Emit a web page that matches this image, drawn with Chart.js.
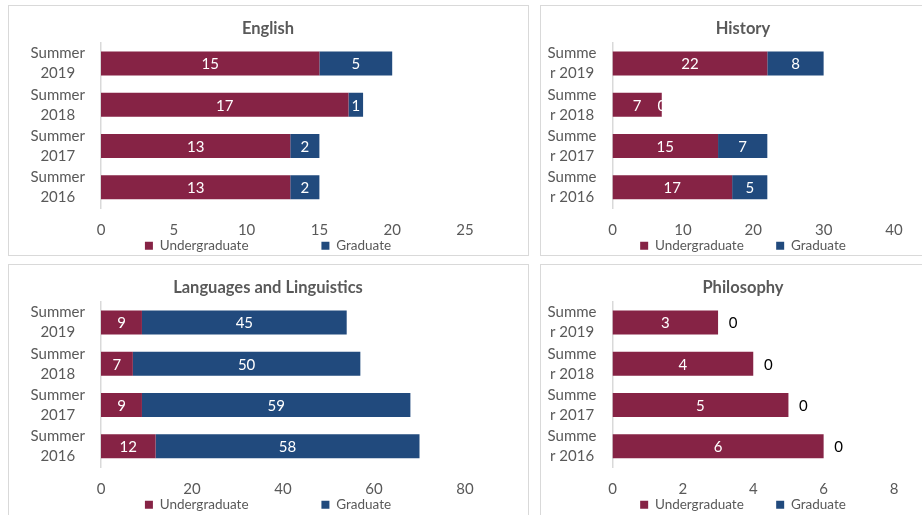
<!DOCTYPE html>
<html><head><meta charset="utf-8">
<script src="https://cdn.jsdelivr.net/npm/chart.js@4.4.1/dist/chart.umd.min.js"></script>
<style>
html,body{margin:0;padding:0;background:#fff;overflow:hidden;width:922px;height:515px;}
.panel{position:absolute;box-sizing:border-box;border:1px solid #d9d9d9;overflow:visible;}
.panel canvas{position:absolute;left:-1px;top:-1px;}
</style></head><body>
<div class="panel" style="left:8px;top:5px;width:521px;height:251px"><canvas id="c1" width="520" height="250"></canvas></div>
<div class="panel" style="left:540px;top:5px;width:408px;height:251px"><canvas id="c2" width="406" height="250"></canvas></div>
<div class="panel" style="left:8px;top:264px;width:521px;height:253px"><canvas id="c3" width="520" height="250"></canvas></div>
<div class="panel" style="left:540px;top:264px;width:408px;height:253px"><canvas id="c4" width="406" height="250"></canvas></div>
<script>
// ---- data ----
const seriesNames = ['Undergraduate', 'Graduate'];
const catsWide = [['Summer', '2019'], ['Summer', '2018'], ['Summer', '2017'], ['Summer', '2016']];
const catsNarrow = [['Summe', 'r 2019'], ['Summe', 'r 2018'], ['Summe', 'r 2017'], ['Summe', 'r 2016']];

const englishUG = [15, 17, 13, 13];
const englishGR = [5, 1, 2, 2];
const historyUG = [22, 7, 15, 17];
const historyGR = [8, 0, 7, 5];
const languagesUG = [9, 7, 9, 12];
const languagesGR = [45, 50, 59, 58];
const philosophyUG = [3, 4, 5, 6];
const philosophyGR = [0, 0, 0, 0];

const englishTicks = {max: 25, step: 5};
const historyTicks = {max: 40, step: 10};
const languagesTicks = {max: 80, step: 20};
const philosophyTicks = {max: 8, step: 2};

// ---- style ----
const UG_COLOR = '#862345';
const GR_COLOR = '#214A7D';
const TEXT = '#595959';
const FONT = 'Lato, "Open Sans", sans-serif';

const barLabels = {
  id: 'barLabels',
  afterDatasetsDraw(chart, args, opts) {
    const ctx = chart.ctx;
    ctx.save();
    ctx.font = '15px ' + FONT;
    ctx.textAlign = 'center';
    ctx.textBaseline = 'middle';
    chart.data.datasets.forEach((ds, di) => {
      const meta = chart.getDatasetMeta(di);
      meta.data.forEach((bar, i) => {
        const v = ds.data[i];
        let x = (bar.x + bar.base) / 2;
        let color = '#ffffff';
        if (v === 0) {
          if (opts.zeroOutside) { x = bar.x + 15; color = '#000000'; }
          else { x = bar.x; }
        }
        ctx.fillStyle = color;
        ctx.fillText(String(v), x, bar.y + 1);
      });
    });
    ctx.restore();
  }
};

function makeChart(id, title, cats, ug, gr, ticks, axisW, padRight, gapSpaces, zeroOutside) {
  new Chart(document.getElementById(id), {
    type: 'bar',
    data: {
      labels: cats,
      datasets: [
        {label: seriesNames[0], data: ug, backgroundColor: UG_COLOR, borderWidth: 0},
        {label: seriesNames[1], data: gr, backgroundColor: GR_COLOR, borderWidth: 0}
      ]
    },
    options: {
      indexAxis: 'y',
      responsive: false,
      animation: false,
      events: [],
      barPercentage: 0.58,
      categoryPercentage: 1,
      layout: {padding: 0},
      scales: {
        x: {
          stacked: true, min: 0, max: ticks.max,
          grid: {display: false, drawTicks: false},
          border: {display: false},
          ticks: {stepSize: ticks.step, color: TEXT, font: {family: FONT, size: 15}, padding: 13},
          afterFit(s) { s.height = 29; s.paddingRight = padRight; }
        },
        y: {
          stacked: true,
          grid: {display: false, drawTicks: false},
          border: {display: true, color: '#d9d9d9', width: 1.5},
          ticks: {color: TEXT, font: {family: FONT, size: 15, lineHeight: 1.33}, padding: 16, crossAlign: 'center', autoSkip: false},
          afterFit(s) { s.width = axisW; s.paddingTop = 0; s.paddingBottom = 0; }
        }
      },
      plugins: {
        title: {display: true, text: title, color: TEXT, font: {family: FONT, size: 16.5, weight: 'bold'}, padding: {top: 14, bottom: 4}},
        legend: {
          position: 'bottom', maxHeight: 18,
          labels: {
            boxWidth: 8, boxHeight: 8, padding: 2, color: TEXT, font: {family: FONT, size: 13.5},
            generateLabels(chart) {
              const items = Chart.defaults.plugins.legend.labels.generateLabels(chart);
              items.forEach((it, i) => { it.lineWidth = 0; if (i === 0) it.text = it.text + '\u2003'.repeat(gapSpaces); });
              return items;
            }
          }
        },
        tooltip: {enabled: false},
        barLabels: {zeroOutside: zeroOutside}
      }
    },
    plugins: [barLabels]
  });
}

makeChart('c1', 'English', catsWide, englishUG, englishGR, englishTicks, 93, 63, 7, false);
makeChart('c2', 'History', catsNarrow, historyUG, historyGR, historyTicks, 72.5, 52, 3, false);
makeChart('c3', 'Languages and Linguistics', catsWide, languagesUG, languagesGR, languagesTicks, 93, 63, 7, false);
makeChart('c4', 'Philosophy', catsNarrow, philosophyUG, philosophyGR, philosophyTicks, 72.5, 52, 3, true);
</script>
</body></html>
